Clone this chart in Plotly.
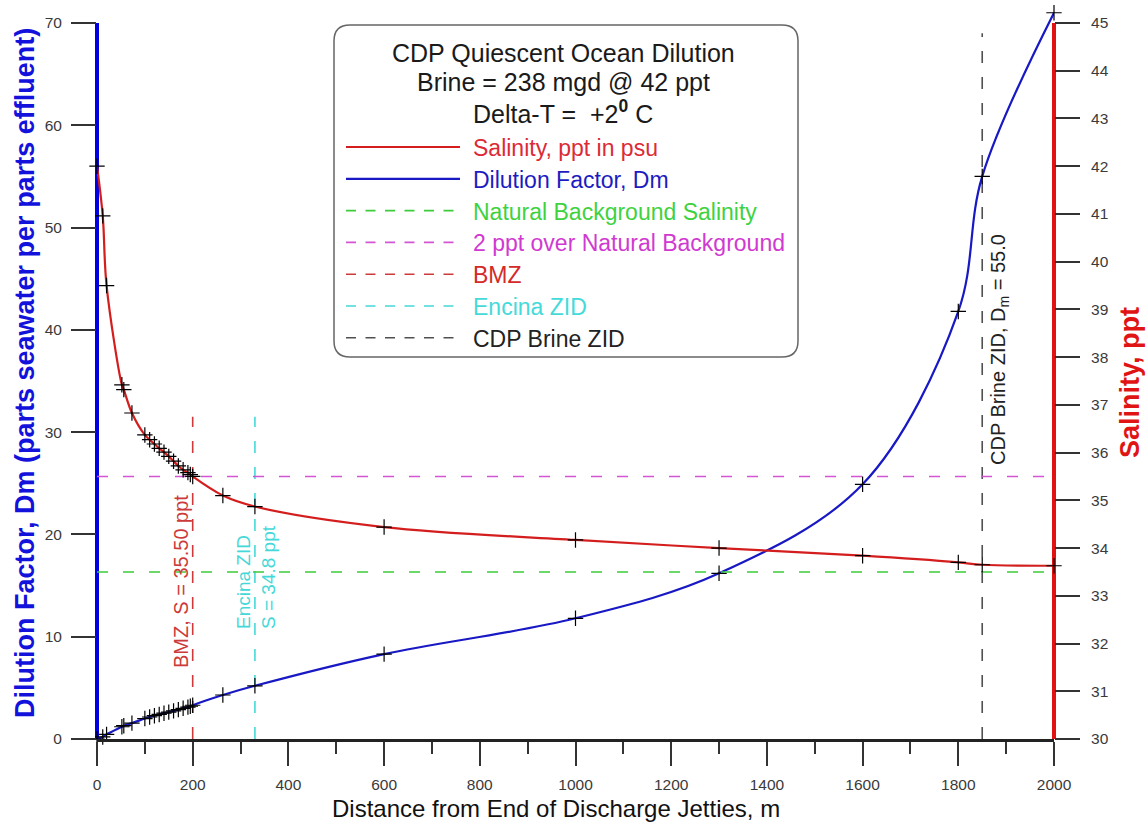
import plotly.graph_objects as go

# ---------------- data ----------------
distance_m = [0, 12, 20, 52, 56, 73, 100, 110, 120, 130, 140, 150, 160, 170, 180,
              190, 195, 200, 263, 330, 600, 1000, 1300, 1600, 1800, 1850, 2000]
salinity_ppt = [42.0, 40.96, 39.5, 37.42, 37.32, 36.83, 36.37, 36.27, 36.18, 36.09,
                36.01, 35.92, 35.82, 35.72, 35.64, 35.58, 35.54, 35.50, 35.10, 34.87,
                34.44, 34.17, 34.00, 33.84, 33.70, 33.65, 33.63]
dilution_dm = [0.0, 0.2, 0.45, 1.2, 1.3, 1.55, 2.0, 2.15, 2.28, 2.4, 2.52, 2.63, 2.75,
               2.87, 3.0, 3.12, 3.2, 3.3, 4.3, 5.2, 8.3, 11.8, 16.2, 24.9, 41.8, 55.0, 71.0]

background_salinity = 33.5
two_ppt_over_background = 35.5
bmz_x = 200
encina_zid_x = 330
cdp_zid_x = 1850
zone_line_top_dm = [31.5, 31.5, 69.0]   # top of BMZ, Encina, CDP lines (left axis units)

x_ticks = list(range(0, 2001, 200))
left_ticks = list(range(0, 71, 10))
right_ticks = list(range(30, 46, 1))

# ---------------- styling ----------------
W, H = 1146, 822
L, R, T, B = 97, 92, 6, 83
PW, PH = W - L - R, H - T - B
FONT = "Liberation Sans, Arial, sans-serif"

RED = "#d41e1e"
BLUE = "#1818c4"
GREEN = "#3ccc3c"
MAGENTA = "#d455d4"
BMZ_RED = "#cc3a3a"
CYAN = "#45d8d8"
GREY = "#505050"


def px(xp):
    return (xp - L) / PW


def py(yp):
    return (H - B - yp) / PH


left_top = 70 * PH / 716.0
right_top = 30 + 15 * PH / 716.0

fig = go.Figure()

# horizontal reference lines (salinity axis)
fig.add_trace(go.Scatter(x=[0, 2000], y=[background_salinity] * 2, yaxis="y2", mode="lines",
                         line=dict(color=GREEN, width=1.6, dash="11px,15px"), showlegend=False))
fig.add_trace(go.Scatter(x=[0, 2000], y=[two_ppt_over_background] * 2, yaxis="y2", mode="lines",
                         line=dict(color=MAGENTA, width=1.6, dash="11px,15px"), showlegend=False))
# vertical zone lines (dilution axis)
for xv, top, col in zip([bmz_x, encina_zid_x, cdp_zid_x], zone_line_top_dm, [BMZ_RED, CYAN, GREY]):
    fig.add_trace(go.Scatter(x=[xv, xv], y=[0, top], yaxis="y", mode="lines",
                             line=dict(color=col, width=1.6, dash="12px,14px"), showlegend=False))

# main curves
fig.add_trace(go.Scatter(x=distance_m, y=dilution_dm, yaxis="y", mode="lines+markers",
                         line=dict(color=BLUE, width=2.2, shape="spline", smoothing=1.0),
                         marker=dict(symbol="cross-thin", size=11, color="black",
                                     line=dict(color="black", width=1.2)),
                         cliponaxis=False, showlegend=False))
fig.add_trace(go.Scatter(x=distance_m, y=salinity_ppt, yaxis="y2", mode="lines+markers",
                         line=dict(color=RED, width=2.2, shape="spline", smoothing=1.0),
                         marker=dict(symbol="cross-thin", size=11, color="black",
                                     line=dict(color="black", width=1.2)),
                         cliponaxis=False, showlegend=False))

shapes = []
# axis lines (paper x so they are not clipped by the plot area)
shapes.append(dict(type="line", xref="paper", yref="y", x0=0, x1=0, y0=0, y1=70,
                   line=dict(color="#0000e0", width=4), layer="below"))
shapes.append(dict(type="line", xref="paper", yref="y2", x0=1, x1=1, y0=30, y1=45,
                   line=dict(color="#e01212", width=4), layer="below"))

# legend box (rounded)
bx0, bx1, by0, by1 = px(334), px(798), py(357), py(25)
rx, ry = 16 / PW, 16 / PH
path = (f"M {bx0+rx},{by1} L {bx1-rx},{by1} Q {bx1},{by1} {bx1},{by1-ry} "
        f"L {bx1},{by0+ry} Q {bx1},{by0} {bx1-rx},{by0} L {bx0+rx},{by0} "
        f"Q {bx0},{by0} {bx0},{by0+ry} L {bx0},{by1-ry} Q {bx0},{by1} {bx0+rx},{by1} Z")
shapes.append(dict(type="path", xref="paper", yref="paper", path=path,
                   line=dict(color="#666666", width=1.5), fillcolor="white", layer="below"))

legend_items = [
    ("Salinity, ppt in psu", RED, "solid", "#dc2a36"),
    ("Dilution Factor, Dm", BLUE, "solid", "#1c1cc0"),
    ("Natural Background Salinity", GREEN, "10px,9.5px", "#3fd23f"),
    ("2 ppt over Natural Background", MAGENTA, "10px,9.5px", "#d03ad0"),
    ("BMZ", BMZ_RED, "10px,9.5px", "#d42a2a"),
    ("Encina ZID", CYAN, "10px,9.5px", "#45dada"),
    ("CDP Brine ZID", GREY, "10px,9.5px", "#222222"),
]
annotations = []
row0, step = 147.0, 31.8
for i, (txt, lc, dash, tc) in enumerate(legend_items):
    yy = row0 + i * step
    shapes.append(dict(type="line", xref="paper", yref="paper", x0=px(346), x1=px(460),
                       y0=py(yy), y1=py(yy),
                       line=dict(color=lc, width=2.2 if dash == "solid" else 1.6, dash=dash)))
    annotations.append(dict(x=px(471), y=py(yy + 1), xref="paper", yref="paper",
                            text=txt, showarrow=False, xanchor="left", yanchor="middle",
                            font=dict(family=FONT, size=23, color=tc)))

title_lines = ["CDP Quiescent Ocean Dilution", "Brine = 238 mgd @ 42 ppt",
               "Delta-T = &nbsp;+2<sup><b>0</b></sup> C"]
for yy, t in zip([53, 82, 112], title_lines):
    annotations.append(dict(x=px(563), y=py(yy), xref="paper", yref="paper", text=t,
                            showarrow=False, xanchor="center", yanchor="middle",
                            font=dict(family=FONT, size=25, color="#1a1a1a")))

# zone labels
annotations.append(dict(x=px(181), y=py(582), xref="paper", yref="paper",
                        text="BMZ, S = 35.50 ppt", textangle=-90, showarrow=False,
                        xanchor="center", yanchor="middle",
                        font=dict(family=FONT, size=20, color=BMZ_RED)))
annotations.append(dict(x=px(256), y=py(577), xref="paper", yref="paper",
                        text="Encina ZID<br>S = 34.8 ppt", textangle=-90, showarrow=False,
                        align="left", xanchor="center", yanchor="middle",
                        font=dict(family=FONT, size=19, color=CYAN)))
annotations.append(dict(x=px(1000), y=py(350), xref="paper", yref="paper",
                        text="CDP Brine ZID, D<sub>m</sub> = 55.0", textangle=-90,
                        showarrow=False, xanchor="center", yanchor="middle",
                        font=dict(family=FONT, size=20, color="#222222")))

# axis titles
annotations.append(dict(x=px(25), y=py(373), xref="paper", yref="paper",
                        text="<b>Dilution Factor, Dm (parts seawater per parts effluent)</b>",
                        textangle=-90, showarrow=False, xanchor="center", yanchor="middle",
                        font=dict(family=FONT, size=27, color="#1212dc")))
annotations.append(dict(x=px(1130), y=py(383), xref="paper", yref="paper",
                        text="<b>Salinity, ppt</b>", textangle=-90, showarrow=False,
                        xanchor="center", yanchor="middle",
                        font=dict(family=FONT, size=27, color="#e01414")))
annotations.append(dict(x=px(556), y=py(808), xref="paper", yref="paper",
                        text="Distance from End of Discharge Jetties, m", showarrow=False,
                        xanchor="center", yanchor="middle",
                        font=dict(family=FONT, size=24, color="#111111")))

tickfont = dict(family=FONT, size=15.5, color="#3a3a3a")
fig.update_layout(
    width=W, height=H,
    margin=dict(l=L, r=R, t=T, b=B, pad=0),
    paper_bgcolor="white", plot_bgcolor="white",
    showlegend=False,
    font=dict(family=FONT),
    xaxis=dict(range=[0, 2000], tickvals=x_ticks, ticks="outside", ticklen=24, tickwidth=2,
               tickcolor="#333333", showgrid=False, zeroline=False, showline=True,
               linecolor="#222222", linewidth=3, tickfont=tickfont, ticklabelstandoff=5,
               minor=dict(dtick=100, ticks="outside", ticklen=12, tickwidth=2,
                          tickcolor="#333333", showgrid=False)),
    yaxis=dict(range=[0, left_top], tickvals=left_ticks, ticks="outside", ticklen=25,
               tickwidth=2, tickcolor="#333333", showgrid=False, zeroline=False,
               showline=False, tickfont=tickfont, ticklabelstandoff=6),
    yaxis2=dict(range=[30, right_top], tickvals=right_ticks, ticks="outside", ticklen=25,
                tickwidth=2, tickcolor="#333333", showgrid=False, zeroline=False,
                showline=False, overlaying="y", side="right", tickfont=tickfont,
                ticklabelstandoff=8),
    shapes=shapes,
    annotations=annotations,
)

fig.write_html("out.html")
